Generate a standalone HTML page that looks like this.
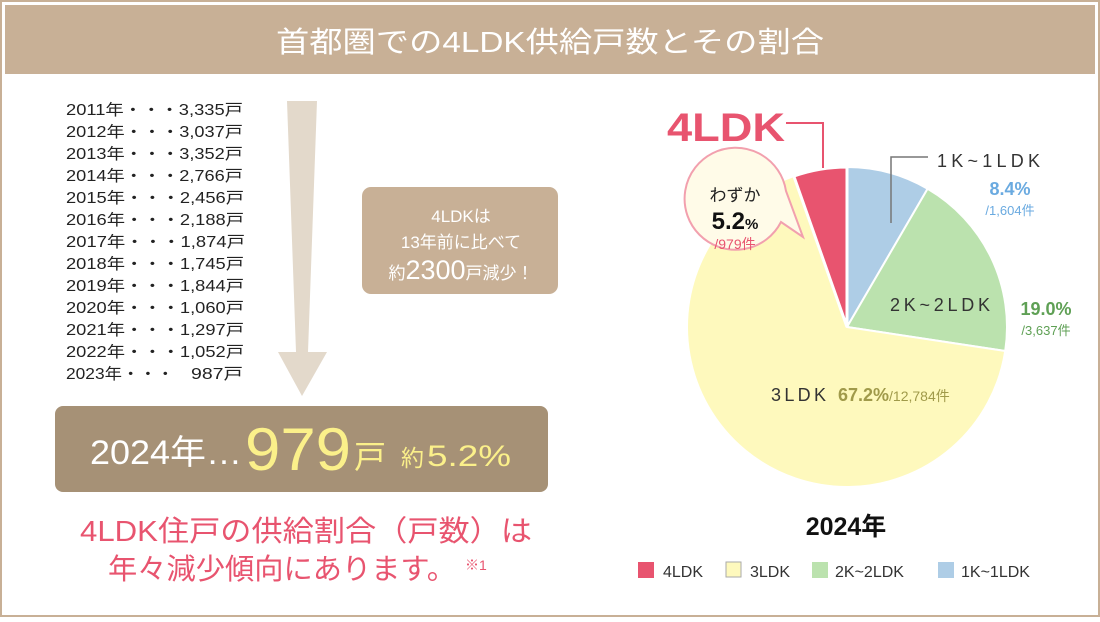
<!DOCTYPE html>
<html><head><meta charset="utf-8"><style>
body{margin:0;width:1100px;height:617px;overflow:hidden;background:#fff}
svg text{font-family:"Liberation Sans","Noto Sans CJK JP",sans-serif}
</style></head><body>
<svg width="1100" height="617" viewBox="0 0 1100 617" xmlns="http://www.w3.org/2000/svg">
<rect x="1" y="1" width="1098" height="615" fill="#fff" stroke="#c8b096" stroke-width="2"/>
<rect x="5" y="5" width="1090" height="69" fill="#c8b096"/>
<text x="276" y="52" textLength="548" lengthAdjust="spacingAndGlyphs" fill="#fff" font-size="29">首都圏での4LDK供給戸数とその割合</text>
<polygon points="287,101 317,101 308,352 327,352 302,396 278,352 296,352" fill="#e3d9cb"/>
<g font-size="15.5" fill="#222">
<text x="66" y="115" textLength="177" lengthAdjust="spacingAndGlyphs">2011年・・・3,335戸</text>
<text x="66" y="137" textLength="177" lengthAdjust="spacingAndGlyphs">2012年・・・3,037戸</text>
<text x="66" y="159" textLength="177" lengthAdjust="spacingAndGlyphs">2013年・・・3,352戸</text>
<text x="66" y="181" textLength="177" lengthAdjust="spacingAndGlyphs">2014年・・・2,766戸</text>
<text x="66" y="203" textLength="178" lengthAdjust="spacingAndGlyphs">2015年・・・2,456戸</text>
<text x="66" y="225" textLength="178" lengthAdjust="spacingAndGlyphs">2016年・・・2,188戸</text>
<text x="66" y="247" textLength="179" lengthAdjust="spacingAndGlyphs">2017年・・・1,874戸</text>
<text x="66" y="269" textLength="178" lengthAdjust="spacingAndGlyphs">2018年・・・1,745戸</text>
<text x="66" y="291" textLength="178" lengthAdjust="spacingAndGlyphs">2019年・・・1,844戸</text>
<text x="66" y="313" textLength="178" lengthAdjust="spacingAndGlyphs">2020年・・・1,060戸</text>
<text x="66" y="335" textLength="178" lengthAdjust="spacingAndGlyphs">2021年・・・1,297戸</text>
<text x="66" y="357" textLength="178" lengthAdjust="spacingAndGlyphs">2022年・・・1,052戸</text>
<text x="66" y="379" textLength="108" lengthAdjust="spacingAndGlyphs">2023年・・・</text>
<text x="243" y="379" text-anchor="end" textLength="52" lengthAdjust="spacingAndGlyphs">987戸</text>
</g>
<rect x="362" y="187" width="196" height="107" rx="9" fill="#c8b096"/>
<g fill="#fff" text-anchor="middle">
<text x="461" y="222" font-size="17">4LDKは</text>
<text x="461" y="248" font-size="17">13年前に比べて</text>
<text x="461" y="279" font-size="17">約<tspan font-size="27">2300</tspan>戸減少！</text>
</g>
<rect x="55" y="406" width="493" height="86" rx="8" fill="#a69176"/>
<text x="90" y="464" font-size="34" fill="#fff" textLength="152" lengthAdjust="spacingAndGlyphs">2024年…</text>
<text x="245" y="470" font-size="60" fill="#fbf08a" textLength="106" lengthAdjust="spacingAndGlyphs">979</text>
<text x="354" y="468" font-size="32" fill="#fbf08a">戸</text>
<text x="401" y="466" font-size="23" fill="#fbf08a">約</text>
<text x="427" y="466" font-size="30" fill="#fbf08a" textLength="84" lengthAdjust="spacingAndGlyphs">5.2%</text>
<g fill="#e8546f" font-size="29">
<text x="80" y="541" textLength="452" lengthAdjust="spacingAndGlyphs">4LDK住戸の供給割合（戸数）は</text>
<text x="108" y="579" textLength="348" lengthAdjust="spacingAndGlyphs">年々減少傾向にあります。</text>
<text x="465" y="570" font-size="14">※1</text>
</g>
<g stroke="#fff" stroke-width="2">
<path d="M847,327 L847,167 A160,160 0 0 1 927.6,188.8 Z" fill="#aecde6"/>
<path d="M847,327 L927.6,188.8 A160,160 0 0 1 1005.2,351 Z" fill="#bbe2ae"/>
<path d="M847,327 L1005.2,351 A160,160 0 1 1 793.8,176.1 Z" fill="#fef9bd"/>
<path d="M847,327 L793.8,176.1 A160,160 0 0 1 847,167 Z" fill="#e8546f" stroke-width="3"/>
</g>
<polyline points="786,123 823,123 823,168" fill="none" stroke="#e8546f" stroke-width="2"/>
<text x="667" y="141" font-size="40" font-weight="bold" fill="#e8546f" textLength="118" lengthAdjust="spacingAndGlyphs">4LDK</text>
<polyline points="928,157 891,157 891,223" fill="none" stroke="#777" stroke-width="1.5"/>
<text x="937" y="167" font-size="18" fill="#333" textLength="103" lengthAdjust="spacing">1K~1LDK</text>
<text x="1010" y="195" font-size="18" font-weight="bold" fill="#6aaae0" text-anchor="middle">8.4%</text>
<text x="1010" y="215" font-size="13" fill="#6aaae0" text-anchor="middle">/1,604件</text>
<text x="890" y="311" font-size="18" fill="#333" textLength="100" lengthAdjust="spacing">2K~2LDK</text>
<text x="1046" y="315" font-size="18" font-weight="bold" fill="#5fa055" text-anchor="middle">19.0%</text>
<text x="1046" y="335" font-size="13" fill="#5fa055" text-anchor="middle">/3,637件</text>
<text x="771" y="401" font-size="18" fill="#333" textLength="55" lengthAdjust="spacing">3LDK</text>
<text x="838" y="401" font-size="18" font-weight="bold" fill="#a09a4a">67.2%<tspan font-size="14" font-weight="normal">/12,784件</tspan></text>
<path d="M781,222 A51,51 0 1 1 786,191 L803,237 Z" fill="#fffbe8" stroke="#f2a0ae" stroke-width="2"/>
<text x="735" y="201" font-size="17" fill="#222" text-anchor="middle">わずか</text>
<text x="735" y="229" font-size="24" font-weight="bold" fill="#111" text-anchor="middle">5.2<tspan font-size="15">%</tspan></text>
<text x="735" y="249" font-size="14" fill="#e8546f" text-anchor="middle">/979件</text>
<text x="846" y="535" font-size="25" font-weight="bold" fill="#111" text-anchor="middle">2024年</text>
<g font-size="16" fill="#333">
<rect x="638" y="562" width="16" height="16" fill="#e8546f"/><text x="663" y="577">4LDK</text>
<rect x="726" y="562" width="15" height="15" fill="#fef9bd" stroke="#aaa"/><text x="750" y="577">3LDK</text>
<rect x="812" y="562" width="16" height="16" fill="#bbe2ae"/><text x="835" y="577">2K~2LDK</text>
<rect x="938" y="562" width="16" height="16" fill="#aecde6"/><text x="961" y="577">1K~1LDK</text>
</g>
</svg>
</body></html>
